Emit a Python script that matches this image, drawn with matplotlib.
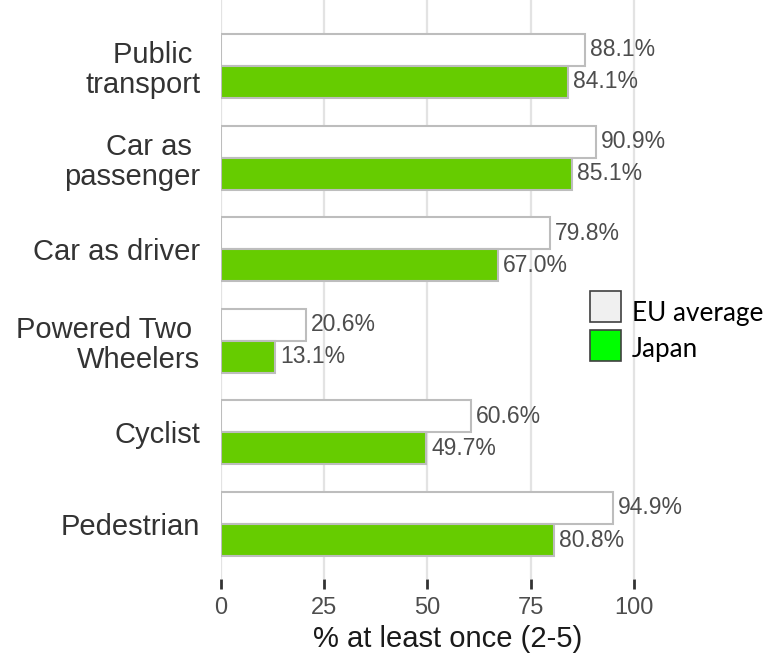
import matplotlib
matplotlib.use("Agg")
import matplotlib.pyplot as plt
from matplotlib.patches import Rectangle

categories = ["Pedestrian", "Cyclist", "Powered Two \nWheelers", "Car as driver",
              "Car as \npassenger", "Public \ntransport"]
eu_values = [94.9, 60.6, 20.6, 79.8, 90.9, 88.1]
japan_values = [80.8, 49.7, 13.1, 67.0, 85.1, 84.1]
xticks = [0, 25, 50, 75, 100]

plt.rcParams['font.family'] = ['Liberation Sans', 'DejaVu Sans']

fig = plt.figure(figsize=(7.71, 6.63), dpi=100)
ax = fig.add_axes([221/771, 1 - 579/663, (675 - 221)/771, 579/663])

pos = list(range(1, len(categories) + 1))
h = 0.35
ax.barh([p + h/2 for p in pos], eu_values, height=h, color="white",
        edgecolor="#bdbdbd", linewidth=1.5, zorder=3)
ax.barh([p - h/2 for p in pos], japan_values, height=h, color="#66cc00",
        edgecolor="#bdbdbd", linewidth=1.5, zorder=3)

for p, v in zip(pos, eu_values):
    ax.text(v + 1.2, p + h/2, f"{v:.1f}%", va="center", ha="left",
            fontsize=16.5, color="#4d4d4d", zorder=4)
for p, v in zip(pos, japan_values):
    ax.text(v + 1.2, p - h/2, f"{v:.1f}%", va="center", ha="left",
            fontsize=16.5, color="#4d4d4d", zorder=4)

ax.set_xlim(0, 110)
ax.set_ylim(0.4, 6.72)
ax.set_xticks(xticks)
ax.set_xticklabels([str(t) for t in xticks])
ax.set_yticks(pos)
ax.set_yticklabels(categories, fontsize=21, color="#333333", linespacing=1.1)
ax.tick_params(axis="y", length=0, pad=15)
ax.tick_params(axis="x", length=7, width=2, color="#333333", labelsize=17,
               labelcolor="#4d4d4d", pad=6)
for s in ax.spines.values():
    s.set_visible(False)
ax.grid(axis="x", color="#e3e3e3", linewidth=1.6, zorder=0)
ax.set_axisbelow(True)
ax.set_xlabel("% at least once (2-5)", fontsize=21, color="#1a1a1a", labelpad=4)

# legend overlay
W, H = 771, 663
fig.patches.append(Rectangle((590/W, 1 - 322/H), 31/W, 31/H, transform=fig.transFigure,
                             facecolor="#f0f0f0", edgecolor="#404040", linewidth=1.2))
fig.patches.append(Rectangle((590/W, 1 - 361/H), 31/W, 31/H, transform=fig.transFigure,
                             facecolor="#00ff00", edgecolor="#404040", linewidth=1.2))
fig.text(632/W, 1 - 314/H, "EU average", fontsize=18.8, family=["Lato", "DejaVu Sans"],
         color="black", va="center", ha="left")
fig.text(632/W, 1 - 350/H, "Japan", fontsize=18.8, family=["Lato", "DejaVu Sans"],
         color="black", va="center", ha="left")

fig.savefig("out.png", dpi=100)
